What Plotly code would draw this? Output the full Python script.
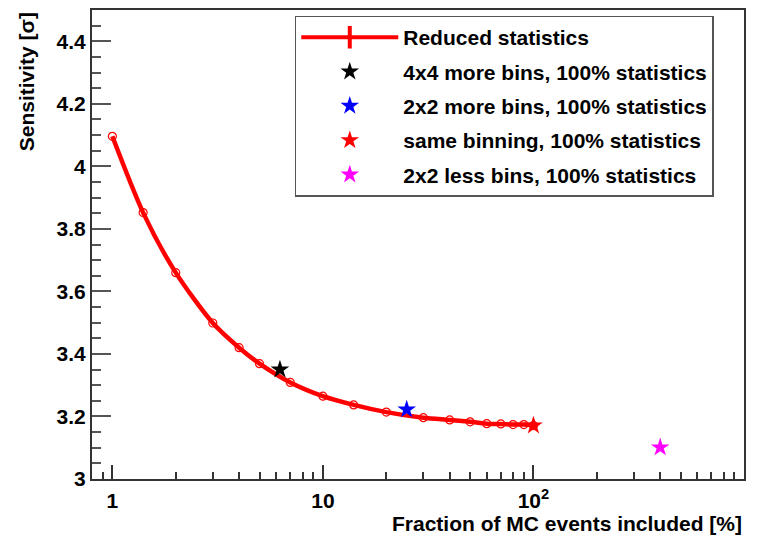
import plotly.graph_objects as go

# ---- data ----
frac = [1, 1.4, 2, 3, 4, 5, 7, 10, 14, 20, 30, 40, 50, 60, 70, 80, 90, 100]
sens = [4.096, 3.852, 3.660, 3.499, 3.420, 3.369, 3.309, 3.265, 3.237,
        3.214, 3.196, 3.189, 3.183, 3.177, 3.176, 3.174, 3.174, 3.171]

star_names = ["4x4 more bins, 100% statistics", "2x2 more bins, 100% statistics",
              "same binning, 100% statistics", "2x2 less bins, 100% statistics"]
star_x = [6.25, 25, 100, 400]
star_y = [3.350, 3.222, 3.171, 3.101]
star_colors = ["black", "blue", "red", "magenta"]

x_tickvals = [1, 10, 100, 1000]
x_ticktext = ["1", "10", "10<sup>2</sup>", "10<sup>3</sup>"]
x_minor = [0.9] + [m * 10 ** e for e in range(0, 3) for m in range(2, 10)]

FONT = "Liberation Sans, Arial, sans-serif"

fig = go.Figure()

# main curve (smooth)
fig.add_trace(go.Scatter(
    x=frac, y=sens, mode="lines+markers", showlegend=False,
    line=dict(color="red", width=4.5, shape="spline", smoothing=0.8),
    marker=dict(symbol="circle-open", size=8, color="red", line=dict(width=1.2, color="red")),
))
# legend entry for reduced statistics
fig.add_trace(go.Scatter(
    x=[None], y=[None], mode="lines+markers", name="Reduced statistics",
    legendgroup="g0",
    line=dict(color="red", width=4),
    marker=dict(symbol="line-ns-open", size=19, color="red", line=dict(width=4, color="red")),
))
for i, (n, xv, yv, c) in enumerate(zip(star_names, star_x, star_y, star_colors)):
    fig.add_trace(go.Scatter(
        x=[xv], y=[yv], mode="markers", name=n, legendgroup=f"g{i+1}",
        marker=dict(symbol="star", size=14, color=c, line=dict(width=0)),
    ))

fig.update_layout(
    width=758, height=538,
    margin=dict(l=92, r=14, t=8, b=59),
    paper_bgcolor="white", plot_bgcolor="white",
    font=dict(family=FONT, size=21, color="black", weight="bold"),
    legend=dict(
        x=0.311, y=0.988, xanchor="left", yanchor="top",
        bordercolor="#555555", borderwidth=1.5, bgcolor="white",
        font=dict(family=FONT, size=21, color="black", weight="bold"),
        itemwidth=97, traceorder="grouped", tracegroupgap=4,
        itemsizing="trace",
    ),
    xaxis=dict(
        type="log", range=[-0.0967, 3.0], showgrid=False, zeroline=False,
        showline=True, linecolor="#333333", linewidth=2, mirror=True,
        tickmode="array", tickvals=x_tickvals, ticktext=x_ticktext,
        ticks="inside", ticklen=14, tickwidth=1.5, tickcolor="#333333",
        tickfont=dict(family=FONT, size=21, color="black", weight="bold"),
        ticklabelstandoff=2,
        minor=dict(tickmode="array", tickvals=x_minor, ticks="inside",
                   ticklen=7, tickwidth=1.5, tickcolor="#333333", showgrid=False),
    ),
    yaxis=dict(
        range=[3.0, 4.5], showgrid=False, zeroline=False,
        showline=True, linecolor="#333333", linewidth=2, mirror=True,
        tickmode="linear", tick0=3.0, dtick=0.2,
        ticks="inside", ticklen=19, tickwidth=1.5, tickcolor="#555555",
        tickfont=dict(family=FONT, size=21, color="black", weight="bold"),
        ticklabelstandoff=0,
        minor=dict(tick0=3.0, dtick=0.05, ticks="inside", ticklen=9,
                   tickwidth=1.5, tickcolor="#555555", showgrid=False),
    ),
)

fig.add_annotation(
    text="Sensitivity [σ]", xref="paper", yref="paper", x=-0.1, y=1.0,
    xanchor="center", yanchor="top", textangle=-90, showarrow=False,
    font=dict(family=FONT, size=21, color="black", weight="bold"),
)
fig.add_annotation(
    text="Fraction of MC events included [%]", xref="paper", yref="paper",
    x=1.0, y=-0.066, xanchor="right", yanchor="top", showarrow=False,
    font=dict(family=FONT, size=21, color="black", weight="bold"),
)

fig.write_html(
    "out.html",
    config={"displayModeBar": False},
    post_script="document.body.style.margin='0';document.body.style.overflow='hidden';",
)
